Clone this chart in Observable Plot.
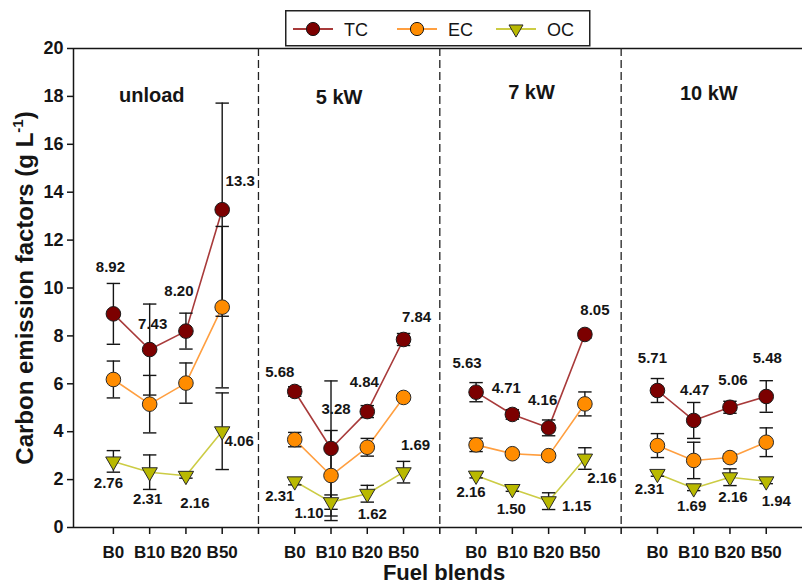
<!DOCTYPE html>
<html><head><meta charset="utf-8">
<script src="https://cdn.jsdelivr.net/npm/d3@7"></script>
<script src="https://cdn.jsdelivr.net/npm/@observablehq/plot@0.6"></script>
<style>
body{margin:0;background:#fff;}
#wrap{position:relative;width:802px;height:587px;font-family:"Liberation Sans",Arial,sans-serif;}
#legend{position:absolute;left:285px;top:10px;}
</style></head><body><div id="wrap"><div id="chart"></div><div id="legend"></div></div>
<script>
const loads = ["unload","5 kW","7 kW","10 kW"];
const blends = ["B0","B10","B20","B50"];
const seriesNames = ["TC","EC","OC"];
const yTicks = [0,2,4,6,8,10,12,14,16,18,20];

const tc    = [[8.92,7.43,8.20,13.27],[5.68,3.30,4.84,7.85],[5.65,4.72,4.16,8.06],[5.72,4.47,5.02,5.47]];
const tcErr = [[1.27,1.90,0.75,4.45],[0.20,2.82,0.25,0.25],[0.40,0.20,0.33,0.15],[0.50,0.75,0.25,0.66]];
const ec    = [[6.18,5.15,6.03,9.20],[3.67,2.17,3.35,5.43],[3.45,3.08,3.00,5.16],[3.42,2.80,2.92,3.56]];
const ecErr = [[0.77,1.20,0.84,3.37],[0.30,1.88,0.37,0.10],[0.28,0.08,0.08,0.50],[0.50,0.76,0.15,0.60]];
const oc    = [[2.76,2.31,2.16,4.02],[1.93,1.06,1.41,2.31],[2.17,1.61,1.10,2.88],[2.24,1.64,2.10,1.93]];
const ocErr = [[0.45,0.72,0.10,1.60],[0.15,0.30,0.35,0.45],[0.10,0.10,0.35,0.45],[0.10,0.10,0.35,0.10]];
const tcLabels = [["8.92","7.43","8.20","13.3"],["5.68","3.28","4.84","7.84"],["5.63","4.71","4.16","8.05"],["5.71","4.47","5.06","5.48"]];
const ocLabels = [["2.76","2.31","2.16","4.06"],["2.31","1.10","1.62","1.69"],["2.16","1.50","1.15","2.16"],["2.31","1.69","2.16","1.94"]];

// layout: pixel nudges of value labels relative to their points
const tcNudge = [[[-3,-47],[3,-25],[-7,-40],[18,-28]],[[-15,-19],[5,-39],[-3,-29],[13,-22]],[[-9,-29],[-6,-26],[-6,-28],[10,-24]],[[-5,-32],[1,-30],[3,-27],[1,-38]]];
const ocNudge = [[[-5,22],[-2,27],[9,27],[17,10]],[[-15,15],[-22,11],[5,20],[12,-27]],[[-5,17],[-1,20],[28,5],[17,20]],[[-8,15],[-2,18],[3,20],[10,20]]];
const titleNudge = [[-16,-1],[-10,1],[1,-4],[-3,-3]];

const style = {
  TC: {line:"#a83a3a", fill:"#7c0000"},
  EC: {line:"#ff9f40", fill:"#ff8c00"},
  OC: {line:"#cccc44", fill:"#b9b900"}
};

const rows = {TC:[], EC:[], OC:[]};
const src = {TC:[tc,tcErr], EC:[ec,ecErr], OC:[oc,ocErr]};
loads.forEach((load,i)=>blends.forEach((b,j)=>{
  for (const s of seriesNames) {
    rows[s].push({series:s, load, blend:b, x:i*5+j+1, v:src[s][0][i][j], e:src[s][1][i][j], i, j});
  }
}));

const font = "'Liberation Sans', Arial, Helvetica, sans-serif";
const ink = "#151515";
const capHalf = 0.185;

const marks = [
  Plot.ruleY([0,20], {stroke:ink, strokeWidth:1.5}),
  Plot.ruleX([-0.1], {stroke:ink, strokeWidth:1.5}),
  Plot.ruleX([5,10,15], {stroke:"#222", strokeWidth:1.3, strokeDasharray:"8,4"}),
  Plot.axisY({ticks:yTicks, tickSize:6, tickPadding:4, fontSize:18, fontWeight:"bold", label:null, strokeWidth:1.5, stroke:ink, fill:ink}),
  Plot.axisX({ticks:d3.range(1,20), tickSize:7, tickPadding:11, fontSize:17, fontWeight:"bold", label:null,
    tickFormat:d=> d%5===0 ? "" : blends[(d%5)-1], strokeWidth:1.5, stroke:ink, fill:ink})
];

for (const s of seriesNames) {
  marks.push(Plot.line(rows[s], {x:"x", y:"v", z:"load", stroke:style[s].line, strokeWidth:1.6}));
}
for (const s of seriesNames) {
  marks.push(Plot.ruleX(rows[s], {x:"x", y1:d=>d.v-d.e, y2:d=>d.v+d.e, stroke:ink, strokeWidth:1.4}));
  marks.push(Plot.link(rows[s], {x1:d=>d.x-capHalf, x2:d=>d.x+capHalf, y1:d=>d.v+d.e, y2:d=>d.v+d.e, stroke:ink, strokeWidth:1.4}));
  marks.push(Plot.link(rows[s], {x1:d=>d.x-capHalf, x2:d=>d.x+capHalf, y1:d=>d.v-d.e, y2:d=>d.v-d.e, stroke:ink, strokeWidth:1.4}));
}
marks.push(Plot.dot(rows.EC, {x:"x", y:"v", r:7.3, fill:style.EC.fill, stroke:"#2a2a2a", strokeWidth:1}));
marks.push(Plot.dot(rows.TC, {x:"x", y:"v", r:7.3, fill:style.TC.fill, stroke:"#1a1a1a", strokeWidth:1}));
marks.push(Plot.dot(rows.OC, {x:"x", y:"v", r:5.7, symbol:"triangle", rotate:180, fill:style.OC.fill, stroke:"#2a2a2a", strokeWidth:1}));

// value labels
rows.TC.forEach(d=>{
  const [dx,dy] = tcNudge[d.i][d.j];
  marks.push(Plot.text([d], {x:"x", y:"v", text:()=>tcLabels[d.i][d.j], dx, dy, fontSize:15, fontWeight:"bold", fill:ink}));
});
rows.OC.forEach(d=>{
  const [dx,dy] = ocNudge[d.i][d.j];
  marks.push(Plot.text([d], {x:"x", y:"v", text:()=>ocLabels[d.i][d.j], dx, dy, fontSize:15, fontWeight:"bold", fill:ink}));
});
// panel titles
loads.forEach((load,i)=>{
  const [dx,dy] = titleNudge[i];
  marks.push(Plot.text([load], {x:i*5+2.5, y:18, text:d=>d, dx, dy, fontSize:20, fontWeight:"bold", fill:ink}));
});

const chart = Plot.plot({
  width:802, height:587,
  marginLeft:73, marginRight:0, marginTop:48, marginBottom:60,
  x:{domain:[-0.1,20], axis:null},
  y:{domain:[0,20], axis:null},
  style:{fontFamily:font, background:"white", color:ink, overflow:"visible"},
  marks
});
document.getElementById("chart").appendChild(chart);

const svg = d3.select(chart);
const yt = svg.append("text")
  .attr("transform","translate(33,288) rotate(-90)")
  .attr("text-anchor","middle")
  .attr("font-family",font).attr("font-weight","bold").attr("font-size",24).attr("fill",ink);
yt.append("tspan").text("Carbon emission factors (g L");
yt.append("tspan").attr("font-size",15).attr("dy",-10).text("-1");
yt.append("tspan").attr("dy",10).text(")");
svg.append("text").attr("x",444).attr("y",580).attr("text-anchor","middle")
  .attr("font-family",font).attr("font-weight","bold").attr("font-size",22).attr("fill",ink).text("Fuel blends");

// legend
const lg = d3.select("#legend").append("svg").attr("width",307).attr("height",38);
lg.append("rect").attr("x",0.75).attr("y",0.75).attr("width",304).attr("height",35).attr("fill","white").attr("stroke","#222").attr("stroke-width",1.5);
const items = [{s:"TC", x0:8, tx:59},{s:"EC", x0:112, tx:163},{s:"OC", x0:211, tx:262}];
items.forEach(it=>{
  const g = lg.append("g");
  g.append("line").attr("x1",it.x0).attr("x2",it.x0+40).attr("y1",19).attr("y2",19).attr("stroke",style[it.s].line).attr("stroke-width",2);
  if (it.s==="OC") {
    g.append("path").attr("d",d3.symbol(d3.symbolTriangle, Math.PI*5.2*5.2)()).attr("transform",`translate(${it.x0+20},19) rotate(180)`)
      .attr("fill",style.OC.fill).attr("stroke","#2a2a2a").attr("stroke-width",1);
  } else {
    g.append("circle").attr("cx",it.x0+20).attr("cy",19).attr("r",6.6).attr("fill",style[it.s].fill).attr("stroke","#1a1a1a").attr("stroke-width",1);
  }
  g.append("text").attr("x",it.tx).attr("y",26).attr("font-family",font).attr("font-size",18).attr("fill",ink).text(it.s);
});
</script></body></html>
